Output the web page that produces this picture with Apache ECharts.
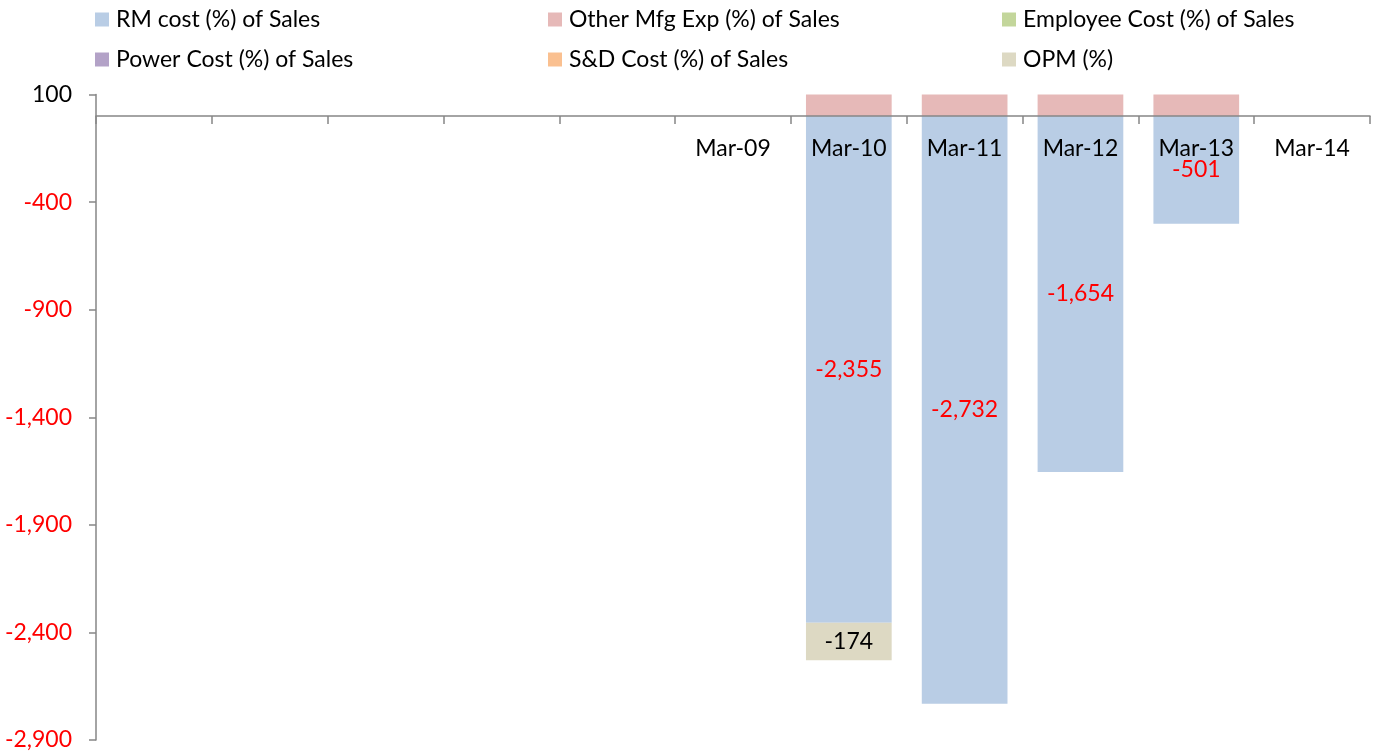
<!DOCTYPE html>
<html><head><meta charset="utf-8">
<script src="https://cdn.jsdelivr.net/npm/echarts@6/dist/echarts.min.js"></script>
<style>html,body{margin:0;padding:0;background:#fff}#c{width:1378px;height:756px}</style>
</head><body><div id="c"></div>
<script>
const categories = ['', '', '', '', '', 'Mar-09', 'Mar-10', 'Mar-11', 'Mar-12', 'Mar-13', 'Mar-14'];
const rmCost       = [null, null, null, null, null, null, -2355, -2732, -1654, -501, null];
const otherMfgExp  = [null, null, null, null, null, null, 100, 100, 100, 100, null];
const employeeCost = [null, null, null, null, null, null, null, null, null, null, null];
const powerCost    = [null, null, null, null, null, null, null, null, null, null, null];
const sdCost       = [null, null, null, null, null, null, null, null, null, null, null];
const opm          = [null, null, null, null, null, null, -174, null, null, null, null];
const yTicks = [100, -400, -900, -1400, -1900, -2400, -2900];
const yMin = -2900, yMax = 100;

const FONT = 'Lato, "Open Sans", sans-serif';
const FS = 23;
const names = ['RM cost (%) of Sales', 'Other Mfg Exp (%) of Sales', 'Employee Cost (%) of Sales',
               'Power Cost (%) of Sales', 'S&D Cost (%) of Sales', 'OPM (%)'];
const colors = ['#b9cde5', '#e6b9b8', '#c3d69b', '#b3a2c7', '#fac090', '#ddd9c3'];
const fmt = v => Number(v).toLocaleString('en-US');

const gridTop = 94.5, gridBottom = 16, H = 756;
const gridH = H - gridTop - gridBottom;
// place the category axis on the value zero line
const zeroOffset = -(yMax / (yMax - yMin)) * gridH;

function mkSeries(i, data, label) {
  return {
    name: names[i], type: 'bar', stack: 'total', data: data,
    barCategoryGap: '26%',
    itemStyle: { color: colors[i] },
    label: label || { show: false },
    emphasis: { disabled: true }
  };
}

const legendCommon = {
  orient: 'vertical', top: 8, padding: 0, itemGap: 17, itemWidth: 14, itemHeight: 14, icon: 'rect',
  textStyle: { fontFamily: FONT, fontSize: FS, color: '#000', padding: [0, 0, 0, 2] },
  selectedMode: false
};

const chart = echarts.init(document.getElementById('c'), null, { renderer: 'canvas' });
chart.setOption({
  animation: false,
  color: colors,
  textStyle: { fontFamily: FONT },
  legend: [
    Object.assign({ left: 95, data: [names[0], names[3]] }, legendCommon),
    Object.assign({ left: 548, data: [names[1], names[4]] }, legendCommon),
    Object.assign({ left: 1002, data: [names[2], names[5]] }, legendCommon)
  ],
  grid: { left: 96, right: 8, top: gridTop, bottom: gridBottom, containLabel: false, outerBoundsMode: 'none' },
  xAxis: {
    type: 'category', data: categories, z: 10, position: 'top', offset: zeroOffset,
    axisLine: { onZero: false, lineStyle: { color: '#868686', width: 1.5 } },
    axisTick: { show: true, inside: true, interval: 0, length: 8, lineStyle: { color: '#868686', width: 1.5 } },
    axisLabel: { inside: true, interval: 0, margin: 21, fontFamily: FONT, fontSize: FS, color: '#000' },
    splitLine: { show: false }
  },
  yAxis: {
    type: 'value', min: yMin, max: yMax,
    axisLine: { show: true, lineStyle: { color: '#868686', width: 1.5 } },
    axisTick: { show: true, length: 7, customValues: yTicks, lineStyle: { color: '#868686', width: 1.5 } },
    axisLabel: {
      customValues: yTicks, margin: 24, fontFamily: FONT, fontSize: FS,
      formatter: v => fmt(v),
      color: v => (v < 0 ? '#ff0000' : '#000000')
    },
    splitLine: { show: false }
  },
  series: [
    mkSeries(0, rmCost, { show: true, position: 'inside', color: '#ff0000', fontFamily: FONT, fontSize: FS, formatter: p => fmt(p.value) }),
    mkSeries(1, otherMfgExp),
    mkSeries(2, employeeCost),
    mkSeries(3, powerCost),
    mkSeries(4, sdCost),
    mkSeries(5, opm, { show: true, position: 'inside', color: '#000', fontFamily: FONT, fontSize: FS, formatter: p => fmt(p.value) })
  ]
});
</script></body></html>
